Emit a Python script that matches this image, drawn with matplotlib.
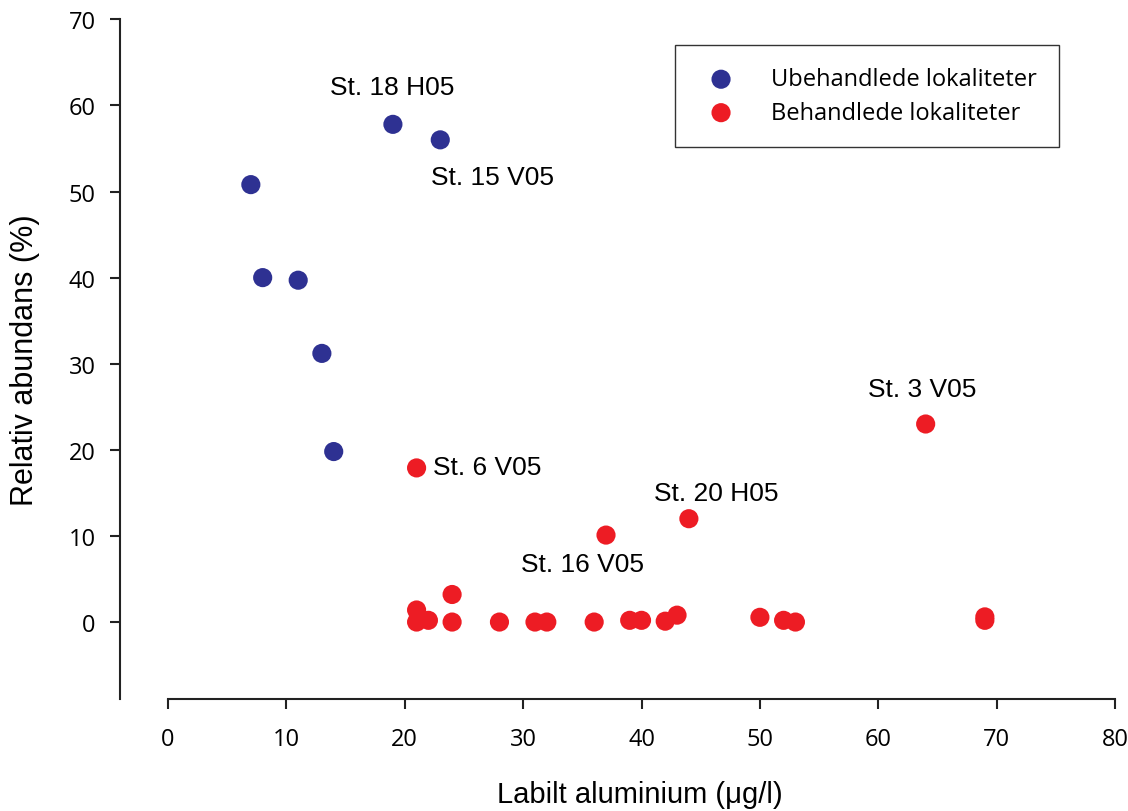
import matplotlib
matplotlib.use("Agg")
import matplotlib.pyplot as plt

plt.rcParams['font.family'] = ['Open Sans', 'DejaVu Sans']

# untreated sites (blue)
ub_x = [7, 8, 11, 13, 14, 19, 23]
ub_y = [50.8, 40.0, 39.7, 31.2, 19.8, 57.8, 56.0]

# treated sites (red)
beh_x = [21, 64, 44, 37, 21, 24, 21, 22, 24, 28, 31, 32, 36, 39, 40, 42, 43, 50, 52, 53, 69, 69]
beh_y = [17.9, 23.0, 12.0, 10.1, 1.4, 3.2, 0.0, 0.2, 0.0, 0.0, 0.0, 0.0, 0.0, 0.2, 0.2, 0.1, 0.8,
         0.55, 0.2, 0.0, 0.6, 0.2]

# station labels
lab_txt = ["St. 18 H05", "St. 15 V05", "St. 6 V05", "St. 3 V05", "St. 20 H05", "St. 16 V05"]
lab_x = [18.9, 27.4, 22.4, 63.7, 46.3, 35.05]
lab_y = [62.1, 51.7, 18.0, 27.1, 15.0, 6.7]
lab_ha = ["center", "center", "left", "center", "center", "center"]

blue = "#2E3192"
red = "#ED1C24"
arial = ['Liberation Sans', 'DejaVu Sans']

fig = plt.figure(figsize=(11.28, 8.12), dpi=100)
ax = fig.add_axes([0.1064, 0.1379, 0.8853, 0.8424])

ax.scatter(ub_x, ub_y, s=190, color=blue, edgecolors='none', label="Ubehandlede lokaliteter", zorder=3)
ax.scatter(beh_x, beh_y, s=190, color=red, edgecolors='none', label="Behandlede lokaliteter", zorder=3)

for t, x, y, ha in zip(lab_txt, lab_x, lab_y, lab_ha):
    ax.text(x, y, t, ha=ha, va="center", fontsize=19, family=arial)

ax.set_xlim(-4.05, 80.3)
ax.set_ylim(-8.94, 70.5)
ax.spines['top'].set_visible(False)
ax.spines['right'].set_visible(False)
ax.spines['left'].set_bounds(-8.94, 70)
ax.spines['bottom'].set_bounds(0, 80)
for s in ['left', 'bottom']:
    ax.spines[s].set_linewidth(1.5)
    ax.spines[s].set_color('#222222')

ax.set_xticks(range(0, 81, 10))
ax.set_yticks(range(0, 71, 10))
ax.tick_params(axis='both', direction='out', length=7.5, width=1.5, color='#222222', labelsize=17)
ax.tick_params(axis='x', pad=13)
ax.tick_params(axis='y', pad=10)

ax.set_xlabel("Labilt aluminium (μg/l)", fontsize=21, family=arial)
ax.set_ylabel("Relativ abundans (%)", fontsize=22, family=arial)
ax.xaxis.set_label_coords(0.5207, -0.118)
ax.yaxis.set_label_coords(-0.080, 0.497)

leg = ax.legend(loc='upper left', bbox_to_anchor=(675 / 1128, 1 - 46 / 812),
                bbox_transform=fig.transFigure, borderaxespad=0, fontsize=17,
                frameon=True, fancybox=False, borderpad=0.95, labelspacing=0.4,
                handlelength=2, handletextpad=1.1, scatterpoints=1)
leg.get_frame().set_edgecolor('black')
leg.get_frame().set_linewidth(1.0)

fig.savefig("out.png", dpi=100)
